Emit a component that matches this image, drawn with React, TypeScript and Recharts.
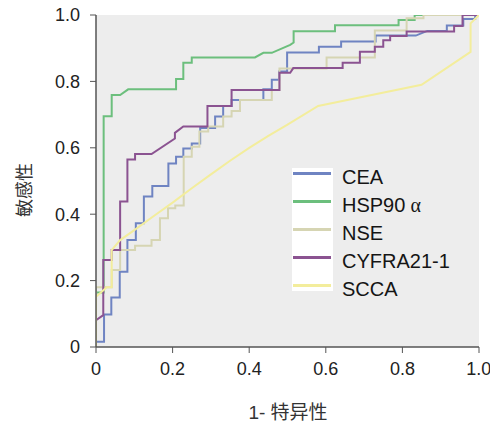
import React from 'react';
import { LineChart, Line, XAxis, YAxis, ReferenceArea, Legend, Label } from 'recharts';

const SERIES_NAMES = ['CEA', 'HSP90α', 'NSE', 'CYFRA21-1', 'SCCA'];
const SERIES_COLORS = ['#6f84c2', '#6cbf7d', '#d6d5b3', '#8b5391', '#f3ed9c'];
const AXIS_TICKS = [0, 0.2, 0.4, 0.6, 0.8, 1.0];
const Y_TITLE = '敏感性';

// [1 - specificity, sensitivity]
const CEA_ROC: [number, number][] = [
  [0, 0], [0, 0.016], [0.021, 0.016], [0.021, 0.098], [0.04, 0.098], [0.04, 0.149],
  [0.062, 0.149], [0.062, 0.227], [0.082, 0.227], [0.082, 0.322], [0.104, 0.322],
  [0.104, 0.373], [0.125, 0.373], [0.125, 0.453], [0.147, 0.453], [0.147, 0.485],
  [0.189, 0.485], [0.189, 0.553], [0.209, 0.553], [0.209, 0.573], [0.228, 0.573],
  [0.228, 0.598], [0.25, 0.598], [0.25, 0.613], [0.272, 0.613], [0.272, 0.66],
  [0.311, 0.66], [0.311, 0.694], [0.332, 0.694], [0.332, 0.726], [0.354, 0.726],
  [0.354, 0.744], [0.437, 0.744], [0.437, 0.776], [0.459, 0.776], [0.459, 0.805],
  [0.478, 0.805], [0.478, 0.83], [0.499, 0.83], [0.499, 0.887], [0.582, 0.887],
  [0.582, 0.904], [0.64, 0.904], [0.64, 0.92], [0.73, 0.92], [0.73, 0.938],
  [0.835, 0.938], [0.865, 0.952], [0.916, 0.952], [0.916, 0.968], [0.959, 0.968],
  [0.959, 0.988], [0.99, 0.988], [0.99, 1], [1, 1],
];

const HSP90_ROC: [number, number][] = [
  [0, 0], [0, 0.164], [0.02, 0.164], [0.02, 0.695], [0.041, 0.695], [0.041, 0.759],
  [0.063, 0.759], [0.084, 0.776], [0.209, 0.776], [0.209, 0.807], [0.228, 0.807],
  [0.228, 0.856], [0.25, 0.856], [0.25, 0.872], [0.415, 0.872], [0.437, 0.886],
  [0.459, 0.886], [0.507, 0.91], [0.516, 0.917], [0.516, 0.951], [0.624, 0.951],
  [0.624, 0.969], [0.79, 0.969], [0.79, 0.985], [0.832, 0.985], [0.832, 1], [1, 1],
];

const NSE_ROC: [number, number][] = [
  [0, 0], [0, 0.18], [0.041, 0.18], [0.041, 0.232], [0.063, 0.232], [0.063, 0.292],
  [0.102, 0.292], [0.102, 0.305], [0.145, 0.305], [0.145, 0.322], [0.167, 0.322],
  [0.167, 0.388], [0.188, 0.388], [0.188, 0.418], [0.207, 0.418], [0.207, 0.426],
  [0.229, 0.426], [0.229, 0.573], [0.25, 0.573], [0.25, 0.603], [0.27, 0.603],
  [0.27, 0.649], [0.293, 0.649], [0.293, 0.664], [0.332, 0.664], [0.332, 0.694],
  [0.354, 0.694], [0.354, 0.711], [0.376, 0.711], [0.376, 0.744], [0.459, 0.744],
  [0.459, 0.774], [0.479, 0.774], [0.479, 0.839], [0.602, 0.839], [0.602, 0.872],
  [0.728, 0.872], [0.728, 0.953], [0.811, 0.953], [0.811, 0.99], [0.855, 0.99],
  [0.855, 1], [1, 1],
];

const CYFRA_ROC: [number, number][] = [
  [0, 0], [0, 0.081], [0.019, 0.096], [0.019, 0.262], [0.041, 0.262], [0.041, 0.292],
  [0.063, 0.292], [0.063, 0.438], [0.082, 0.438], [0.082, 0.565], [0.102, 0.565],
  [0.102, 0.581], [0.145, 0.581], [0.206, 0.628], [0.206, 0.645], [0.228, 0.664],
  [0.291, 0.664], [0.291, 0.726], [0.354, 0.726], [0.354, 0.774], [0.479, 0.774],
  [0.479, 0.826], [0.507, 0.826], [0.515, 0.84], [0.644, 0.84], [0.644, 0.856],
  [0.689, 0.856], [0.689, 0.889], [0.728, 0.889], [0.728, 0.904], [0.75, 0.904],
  [0.75, 0.924], [0.768, 0.924], [0.768, 0.937], [0.811, 0.937], [0.811, 0.95],
  [0.935, 0.95], [0.935, 0.967], [0.957, 0.967], [0.957, 1], [1, 1],
];

const SCCA_ROC: [number, number][] = [
  [0, 0], [0, 0.151], [0.028, 0.18], [0.041, 0.18], [0.041, 0.292], [0.063, 0.322],
  [0.1, 0.352], [0.15, 0.394], [0.2, 0.435], [0.25, 0.478], [0.3, 0.52], [0.35, 0.561],
  [0.4, 0.6], [0.45, 0.636], [0.5, 0.67], [0.58, 0.726], [0.85, 0.79], [0.978, 0.889],
  [0.978, 0.975], [1, 1],
];

const SERIES_DATA = [CEA_ROC, HSP90_ROC, NSE_ROC, CYFRA_ROC, SCCA_ROC];

const toPoints = (pairs: [number, number][]) => pairs.map(([x, y]) => ({ x, y }));

const TICK_FONT = { fontFamily: 'Liberation Sans, Arial, sans-serif', fontSize: 18, fill: '#222' };
const fmt = (v: number) => (v === 0 ? '0' : v.toFixed(1));

const renderLegend = (props: any) => {
  const payload: any[] = props.payload || [];
  const items = SERIES_NAMES.map((n, i) => {
    const p = payload.find((q) => String(q.value) === n);
    return { name: n, color: p ? p.color : SERIES_COLORS[i] };
  });
  return (
    <div style={{ position: 'relative', width: 190, height: 140 }}>
      <div style={{ position: 'absolute', left: 0, top: 9, width: 41, height: 123, background: '#ffffff' }} />
      {items.map((p, i) => {
        const c = 14.5 + i * 28;
        const name = p.name;
        const hasAlpha = name.endsWith('α');
        return (
          <React.Fragment key={name}>
            <div style={{ position: 'absolute', left: 1, top: c - 1.5, width: 38, height: 3, background: p.color }} />
            <div
              style={{
                position: 'absolute', left: 50, top: c + 3 - 12, height: 24, lineHeight: '24px',
                fontFamily: 'Liberation Sans, Arial, sans-serif', fontSize: 20, color: '#151515', whiteSpace: 'nowrap',
              }}
            >
              {hasAlpha ? (
                <>
                  {name.slice(0, -1)}
                  <span style={{ fontFamily: 'Liberation Serif, serif', marginLeft: 5 }}>α</span>
                </>
              ) : name}
            </div>
          </React.Fragment>
        );
      })}
    </div>
  );
};

export default function App() {
  return (
    <div style={{ position: 'absolute', left: 0, top: 0, width: 490, height: 423, background: '#ffffff' }}>
      <LineChart width={490} height={423} margin={{ top: 15, right: 11, bottom: 0, left: 0 }}>
        <ReferenceArea x1={0} x2={1} y1={0} y2={1} fill="#ededed" fillOpacity={1} stroke="none" />
        <XAxis
          type="number"
          dataKey="x"
          domain={[0, 1]}
          ticks={AXIS_TICKS}
          tickFormatter={fmt}
          height={76}
          tickSize={6}
          tickMargin={9}
          tick={TICK_FONT}
          axisLine={{ stroke: '#555', strokeWidth: 1.5 }}
          tickLine={{ stroke: '#555' }}
          allowDataOverflow
        >
          <Label
            content={() => (
              <text x={288} y={419} textAnchor="middle" fill="#333" fontSize={19}>
                <tspan fontFamily="Liberation Sans, Arial, sans-serif">1- </tspan>
                <tspan fontFamily="Noto Sans CJK SC, sans-serif">特异性</tspan>
              </text>
            )}
          />
        </XAxis>
        <YAxis
          type="number"
          dataKey="y"
          domain={[0, 1]}
          ticks={AXIS_TICKS}
          tickFormatter={fmt}
          width={96}
          tickSize={6}
          tickMargin={10}
          tick={TICK_FONT}
          axisLine={{ stroke: '#555', strokeWidth: 1.5 }}
          tickLine={{ stroke: '#555' }}
          allowDataOverflow
        >
          <Label
            content={() => (
              <text
                x={23}
                y={190}
                transform="rotate(-90 23 190)"
                textAnchor="middle"
                dominantBaseline="central"
                fill="#333"
                fontSize={18}
                fontFamily="Noto Sans CJK SC, sans-serif"
              >
                {Y_TITLE}
              </text>
            )}
          />
        </YAxis>
        <Legend
          layout="vertical"
          align="center"
          verticalAlign="middle"
          content={renderLegend}
          wrapperStyle={{ left: 292, top: 159, width: 190, height: 140 }}
        />
        {SERIES_NAMES.map((name, i) => (
          <Line
            key={name}
            name={name}
            data={toPoints(SERIES_DATA[i])}
            dataKey="y"
            type="linear"
            stroke={SERIES_COLORS[i]}
            strokeWidth={2}
            dot={false}
            activeDot={false}
            isAnimationActive={false}
          />
        ))}
      </LineChart>
    </div>
  );
}
